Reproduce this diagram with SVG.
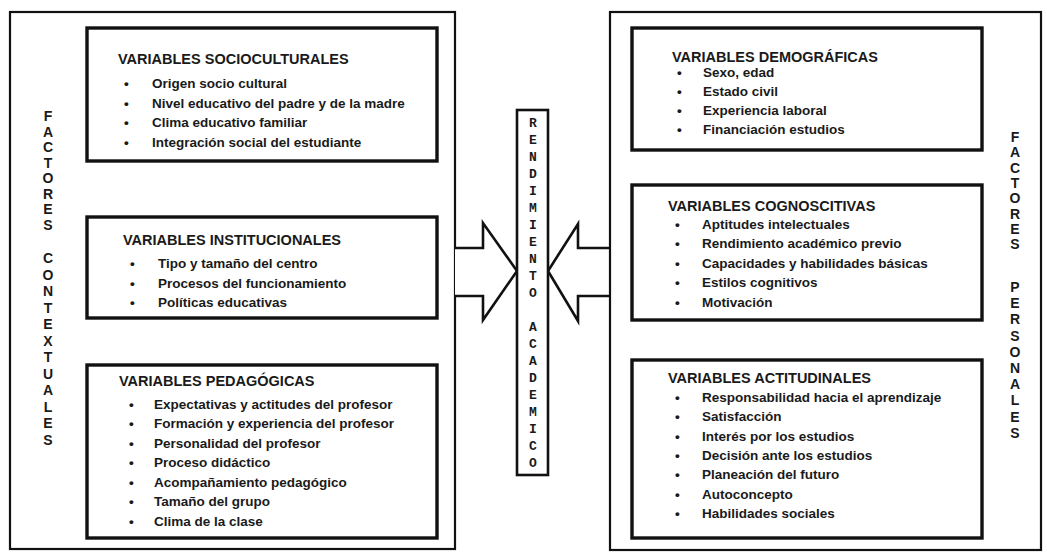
<svg xmlns="http://www.w3.org/2000/svg" width="1047" height="553" viewBox="0 0 1047 553">
<style>
.outer{fill:none;stroke:#111;stroke-width:2.2}
.inner{fill:#fff;stroke:#111;stroke-width:3.4}
.center{fill:#fff;stroke:#111;stroke-width:2.6}
.arrow{fill:#fff;stroke:#111;stroke-width:2.6;stroke-linejoin:miter}
.t{font-family:"Liberation Sans",Arial,sans-serif;font-weight:bold;font-size:14.5px;fill:#1a1a1a}
.i{font-family:"Liberation Sans",Arial,sans-serif;font-weight:bold;font-size:13.5px;fill:#1a1a1a}
.v{font-family:"Liberation Sans",Arial,sans-serif;font-weight:bold;font-size:14px;fill:#1a1a1a;text-anchor:middle}
.m{font-family:"Liberation Mono","DejaVu Sans Mono",monospace;font-weight:bold;font-size:13px;fill:#1a1a1a;text-anchor:middle}
</style>
<rect width="1047" height="553" fill="#fff"/>

<g id="factores-contextuales">
<rect class="outer" x="10" y="12" width="445" height="537"/>
<g class="v">
<text x="48" y="121">F</text><text x="48" y="136.5">A</text><text x="48" y="152">C</text><text x="48" y="167.5">T</text><text x="48" y="183">O</text><text x="48" y="198.5">R</text><text x="48" y="214">E</text><text x="48" y="229.5">S</text>
<text x="48" y="263">C</text><text x="48" y="279.5">O</text><text x="48" y="296">N</text><text x="48" y="312.5">T</text><text x="48" y="329">E</text><text x="48" y="345.5">X</text><text x="48" y="362">T</text><text x="48" y="378.5">U</text><text x="48" y="395">A</text><text x="48" y="411.5">L</text><text x="48" y="428">E</text><text x="48" y="444.5">S</text>
</g>
</g>

<g id="variables-socioculturales">
<rect class="inner" x="87" y="28" width="350" height="133"/>
<text class="t" x="118" y="64">VARIABLES SOCIOCULTURALES</text>
<g class="i">
<text x="124" y="88">•</text><text x="152" y="88">Origen socio cultural</text>
<text x="124" y="107.5">•</text><text x="152" y="107.5">Nivel educativo del padre y de la madre</text>
<text x="124" y="127">•</text><text x="152" y="127">Clima educativo familiar</text>
<text x="124" y="146.5">•</text><text x="152" y="146.5">Integración social del estudiante</text>
</g>
</g>

<g id="variables-institucionales">
<rect class="inner" x="87" y="217" width="350" height="101"/>
<text class="t" x="123" y="245">VARIABLES INSTITUCIONALES</text>
<g class="i">
<text x="130" y="267.5">•</text><text x="158" y="267.5">Tipo y tamaño del centro</text>
<text x="130" y="287.5">•</text><text x="158" y="287.5">Procesos del funcionamiento</text>
<text x="130" y="307">•</text><text x="158" y="307">Políticas educativas</text>
</g>
</g>

<g id="variables-pedagogicas">
<rect class="inner" x="87" y="365" width="350" height="173"/>
<text class="t" x="119" y="386">VARIABLES PEDAGÓGICAS</text>
<g class="i">
<text x="129" y="408.5">•</text><text x="154" y="408.5">Expectativas y actitudes del profesor</text>
<text x="129" y="428">•</text><text x="154" y="428">Formación y experiencia del profesor</text>
<text x="129" y="447.5">•</text><text x="154" y="447.5">Personalidad del profesor</text>
<text x="129" y="467">•</text><text x="154" y="467">Proceso didáctico</text>
<text x="129" y="486.5">•</text><text x="154" y="486.5">Acompañamiento pedagógico</text>
<text x="129" y="506">•</text><text x="154" y="506">Tamaño del grupo</text>
<text x="129" y="525.5">•</text><text x="154" y="525.5">Clima de la clase</text>
</g>
</g>

<g id="connectors">
<path class="arrow" d="M455,248 H483 V223 L517,271 L483,320 V296 H455"/>
<path class="arrow" d="M610,248 H578 V224 L548,271 L578,321 V296 H610"/>
</g>

<g id="rendimiento-academico">
<rect class="center" x="517" y="110" width="31" height="365"/>
<g class="m">
<text x="533" y="127">R</text><text x="533" y="144">E</text><text x="533" y="161">N</text><text x="533" y="178">D</text><text x="533" y="195">I</text><text x="533" y="212">M</text><text x="533" y="229">I</text><text x="533" y="246">E</text><text x="533" y="263">N</text><text x="533" y="280">T</text><text x="533" y="297">O</text>
<text x="533" y="331">A</text><text x="533" y="348">C</text><text x="533" y="365">A</text><text x="533" y="382">D</text><text x="533" y="399">E</text><text x="533" y="416">M</text><text x="533" y="433">I</text><text x="533" y="450">C</text><text x="533" y="467">O</text>
</g>
</g>

<g id="factores-personales">
<rect class="outer" x="610" y="12" width="431" height="538"/>
<g class="v">
<text x="1015" y="142">F</text><text x="1015" y="157.3">A</text><text x="1015" y="172.6">C</text><text x="1015" y="187.9">T</text><text x="1015" y="203.2">O</text><text x="1015" y="218.5">R</text><text x="1015" y="233.8">E</text><text x="1015" y="249.1">S</text>
<text x="1015" y="292">P</text><text x="1015" y="308.2">E</text><text x="1015" y="324.4">R</text><text x="1015" y="340.6">S</text><text x="1015" y="356.8">O</text><text x="1015" y="373">N</text><text x="1015" y="389.2">A</text><text x="1015" y="405.4">L</text><text x="1015" y="421.6">E</text><text x="1015" y="437.8">S</text>
</g>
</g>

<g id="variables-demograficas">
<rect class="inner" x="632" y="28" width="350" height="122"/>
<text class="t" x="672" y="62">VARIABLES DEMOGRÁFICAS</text>
<g class="i">
<text x="677" y="76.5">•</text><text x="703" y="76.5">Sexo, edad</text>
<text x="677" y="95.5">•</text><text x="703" y="95.5">Estado civil</text>
<text x="677" y="114.5">•</text><text x="703" y="114.5">Experiencia laboral</text>
<text x="677" y="134">•</text><text x="703" y="134">Financiación estudios</text>
</g>
</g>

<g id="variables-cognoscitivas">
<rect class="inner" x="632" y="185" width="350" height="135"/>
<text class="t" x="668" y="211">VARIABLES COGNOSCITIVAS</text>
<g class="i">
<text x="675" y="228.5">•</text><text x="702" y="228.5">Aptitudes intelectuales</text>
<text x="675" y="248">•</text><text x="702" y="248">Rendimiento académico previo</text>
<text x="675" y="267.5">•</text><text x="702" y="267.5">Capacidades y habilidades básicas</text>
<text x="675" y="287">•</text><text x="702" y="287">Estilos cognitivos</text>
<text x="675" y="306.5">•</text><text x="702" y="306.5">Motivación</text>
</g>
</g>

<g id="variables-actitudinales">
<rect class="inner" x="632" y="360" width="350" height="178"/>
<text class="t" x="668" y="383">VARIABLES ACTITUDINALES</text>
<g class="i">
<text x="675" y="401.5">•</text><text x="702" y="401.5">Responsabilidad hacia el aprendizaje</text>
<text x="675" y="421">•</text><text x="702" y="421">Satisfacción</text>
<text x="675" y="440.5">•</text><text x="702" y="440.5">Interés por los estudios</text>
<text x="675" y="459.5">•</text><text x="702" y="459.5">Decisión ante los estudios</text>
<text x="675" y="479">•</text><text x="702" y="479">Planeación del futuro</text>
<text x="675" y="498.5">•</text><text x="702" y="498.5">Autoconcepto</text>
<text x="675" y="517.5">•</text><text x="702" y="517.5">Habilidades sociales</text>
</g>
</g>
</svg>
